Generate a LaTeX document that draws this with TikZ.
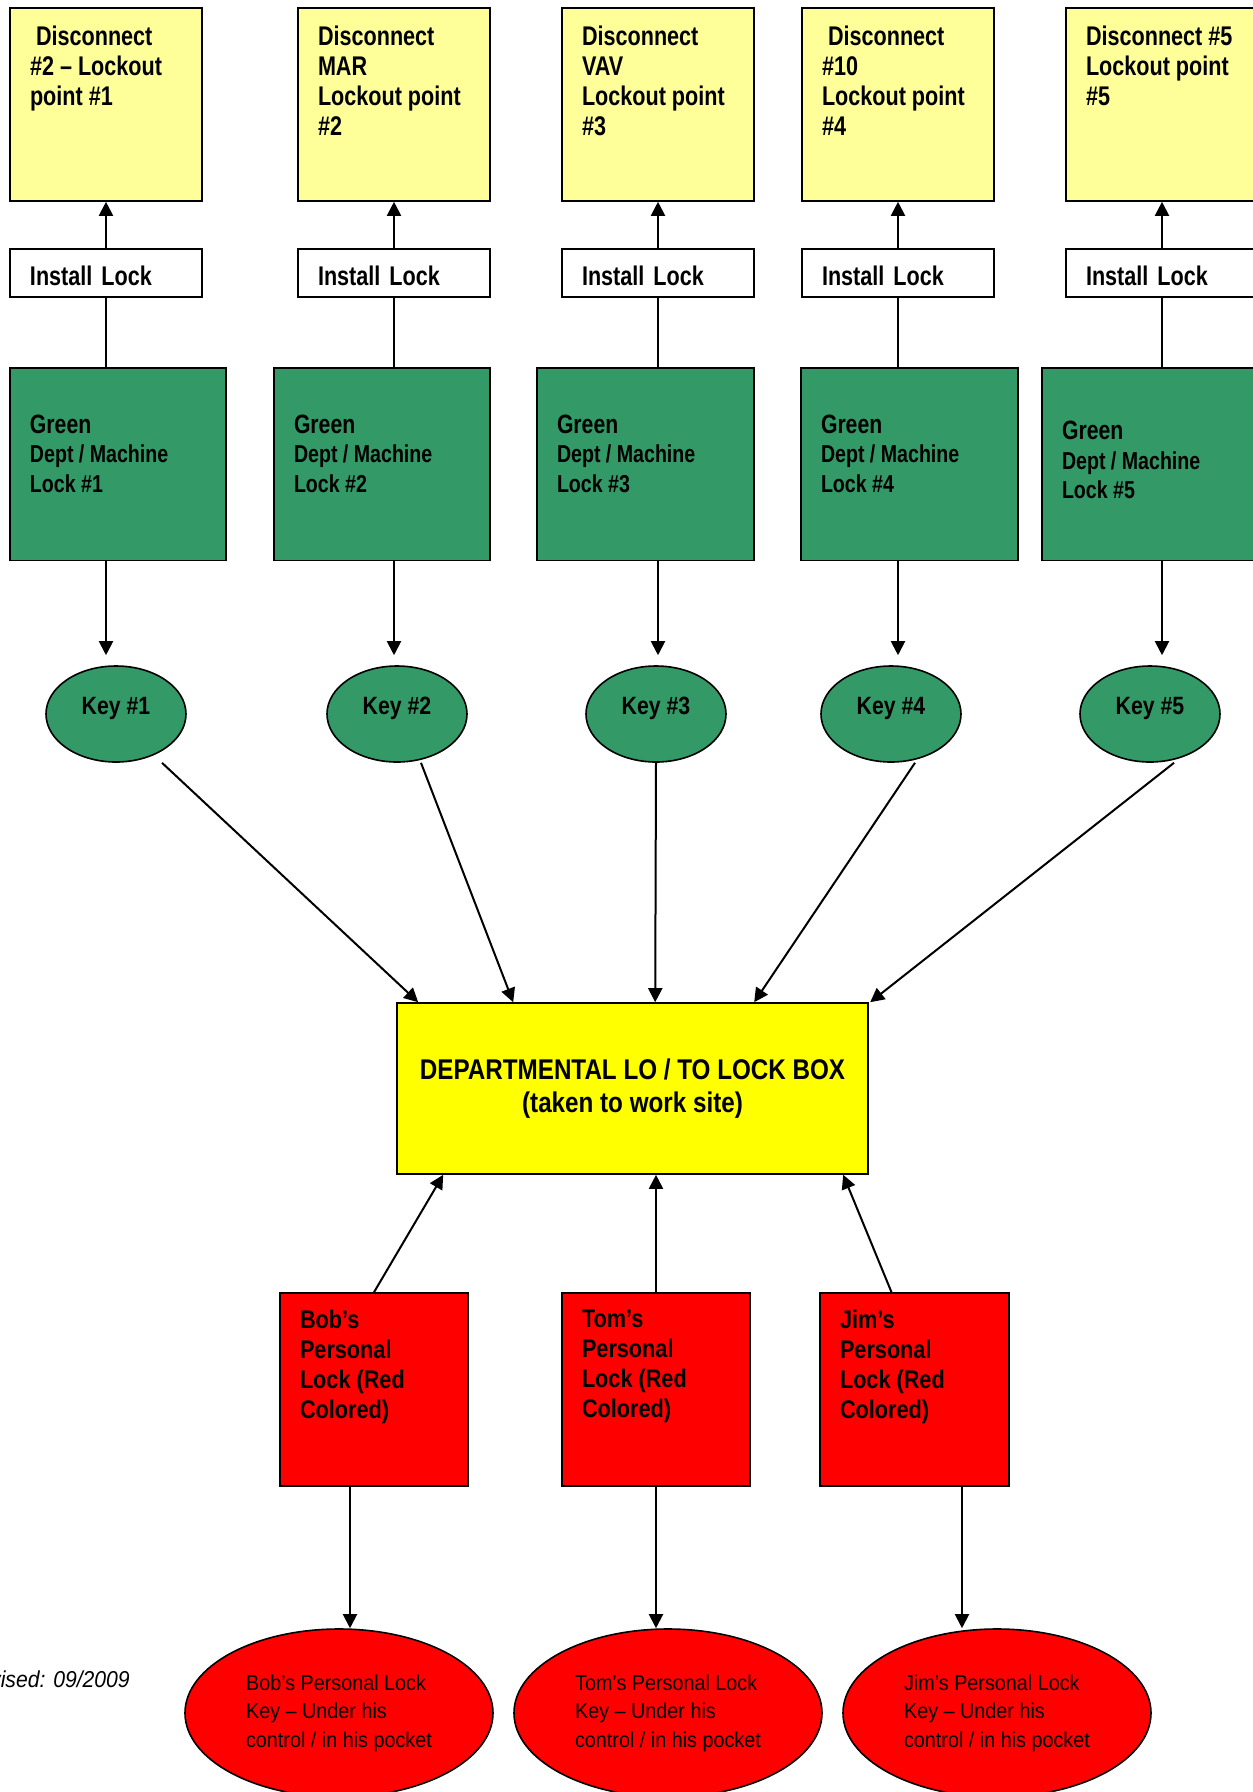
\documentclass[tikz,border=0pt]{standalone}
\usepackage{fontspec}
\setmainfont{Liberation Sans}[FakeStretch=0.85]
\newfontfamily\topfont{Liberation Sans}[FakeStretch=0.8, Ligatures=TeX]
\newfontfamily\notefont{Liberation Sans}[FakeStretch=0.92, Ligatures=TeX]
\usetikzlibrary{arrows.meta,calc,shapes.geometric}

\definecolor{paleyellow}{HTML}{FFFF99}
\definecolor{seagreen}{HTML}{339966}
\definecolor{boxred}{HTML}{FF0000}
\definecolor{boxyellow}{HTML}{FFFF00}

\newcommand{\topbox}[4]{\parbox[c][#1][t]{#2}{\raggedright\vspace*{#3}#4}}

\tikzset{
	disc/.style={draw, fill=paleyellow, line width=1.6pt, inner xsep=20pt, inner ysep=0pt, font=\topfont\fontsize{27}{30}\selectfont\bfseries},
	install/.style={draw, fill=white, line width=1.6pt, minimum width=192pt, minimum height=48pt, text width=152pt, text height=26pt, text depth=0pt, align=left, inner xsep=20pt, inner ysep=0pt, font=\topfont\fontsize{27}{30}\selectfont\bfseries},
	greenlock/.style={draw, fill=seagreen, line width=1.6pt, inner xsep=20pt, inner ysep=0pt, font=\topfont\fontsize{24.5}{29.5}\selectfont\bfseries},
	keynode/.style={ellipse, draw, fill=seagreen, line width=1.6pt, minimum width=140pt, minimum height=96pt, text height=20pt, text depth=20pt, inner sep=0pt, font=\fontsize{25}{27}\selectfont\bfseries},
	lockstyle/.style={draw, fill=boxyellow, line width=1.6pt, minimum width=471pt, minimum height=171pt, align=center, font=\fontsize{28.5}{33}\selectfont\bfseries},
	personal/.style={draw, fill=boxred, line width=1.6pt, inner xsep=20pt, inner ysep=0pt, font=\fontsize{25.5}{30}\selectfont\bfseries},
	pocket/.style={ellipse, draw, fill=boxred, line width=1.6pt, minimum width=308pt, minimum height=168pt, align=left, inner sep=0pt, font=\notefont\fontsize{21.5}{28.5}\selectfont},
	arr/.style={line width=2pt, -{Triangle[length=14pt,width=14pt]}},
	link/.style={line width=2pt}
}

\begin{document}
\begin{tikzpicture}[x=1pt, y=-1pt]
	\path[use as bounding box, fill=white] (0,0) rectangle (1253,1792);

	% lockout points
	\node[disc] (disc1) at (106,104.5) {\topbox{193pt}{152pt}{18pt}{\hspace*{6pt}Disconnect\\\#2 -- Lockout\\point \#1}};
	\node[disc] (disc2) at (394,104.5) {\topbox{193pt}{152pt}{18pt}{Disconnect\\MAR\\Lockout point\\\#2}};
	\node[disc] (disc3) at (658,104.5) {\topbox{193pt}{152pt}{18pt}{Disconnect\\VAV\\Lockout point\\\#3}};
	\node[disc] (disc4) at (898,104.5) {\topbox{193pt}{152pt}{18pt}{\hspace*{6pt}Disconnect\\\#10\\Lockout point\\\#4}};
	\node[disc] (disc5) at (1162,104.5) {\topbox{193pt}{152pt}{18pt}{Disconnect \#5\\Lockout point\\\#5}};

	\node[install] (inst1) at (106,272.7) {Install Lock};
	\node[install] (inst2) at (394,272.7) {Install Lock};
	\node[install] (inst3) at (658,272.7) {Install Lock};
	\node[install] (inst4) at (898,272.7) {Install Lock};
	\node[install] (inst5) at (1162,272.7) {Install Lock};

	\node[greenlock] (green1) at (118,464.3) {\topbox{192.5pt}{176pt}{46.5pt}{{\fontsize{26.5}{29.5}\selectfont Green}\\Dept / Machine\\Lock \#1}};
	\node[greenlock] (green2) at (382,464.3) {\topbox{192.5pt}{176pt}{46.5pt}{{\fontsize{26.5}{29.5}\selectfont Green}\\Dept / Machine\\Lock \#2}};
	\node[greenlock] (green3) at (645.5,464.3) {\topbox{192.5pt}{177pt}{46.5pt}{{\fontsize{26.5}{29.5}\selectfont Green}\\Dept / Machine\\Lock \#3}};
	\node[greenlock] (green4) at (909.5,464.3) {\topbox{192.5pt}{177pt}{46.5pt}{{\fontsize{26.5}{29.5}\selectfont Green}\\Dept / Machine\\Lock \#4}};
	\node[greenlock] (green5) at (1150.5,464.3) {\topbox{192.5pt}{177pt}{53pt}{{\fontsize{26.5}{29.5}\selectfont Green}\\Dept / Machine\\Lock \#5}};

	\node[keynode] (key1) at (116,714) {Key \#1};
	\node[keynode] (key2) at (397,714) {Key \#2};
	\node[keynode] (key3) at (656,714) {Key \#3};
	\node[keynode] (key4) at (891,714) {Key \#4};
	\node[keynode] (key5) at (1150,714) {Key \#5};

	\node[lockstyle] (lockbox) at (632.5,1088.5) {DEPARTMENTAL LO / TO LOCK BOX\\(taken to work site)};

	% personal locks
	\node[personal] (bob) at (374,1389.5) {\topbox{193pt}{148pt}{17pt}{Bob’s\\Personal\\Lock (Red\\Colored)}};
	\node[personal] (tom) at (656,1389.5) {\topbox{193pt}{148pt}{17pt}{Tom’s\\Personal\\Lock (Red\\Colored)}};
	\node[personal] (jim) at (914.5,1389.5) {\topbox{193pt}{149pt}{17pt}{Jim’s\\Personal\\Lock (Red\\Colored)}};

	\node[pocket] (bobkey) at (339,1713) {Bob’s Personal Lock\\Key -- Under his\\control / in his pocket};
	\node[pocket] (tomkey) at (668,1713) {Tom’s Personal Lock\\Key -- Under his\\control / in his pocket};
	\node[pocket] (jimkey) at (997,1713) {Jim’s Personal Lock\\Key -- Under his\\control / in his pocket};

	\node[anchor=base east, inner sep=0pt, font=\notefont\fontsize{23}{27}\selectfont\itshape] (revised) at (130,1687) {Revised: 09/2009};

	\foreach \n in {1,...,5} {
		\draw[arr] (inst\n.north) -- (disc\n.south);
		\draw[link] (inst\n.south) -- (inst\n.south |- green\n.north);
		\coordinate (drop\n) at (green\n.south -| inst\n.south);
		\draw[arr] (drop\n) -- ($(drop\n |- key\n.north)+(0,-10)$);
	}
	\foreach \n/\s/\e in {1/46pt/22pt, 2/24pt/117pt, 3/0pt/259pt, 4/24pt/358pt, 5/24pt/474pt}
		\draw[arr] ([xshift=\s]key\n.south) -- ([xshift=\e]lockbox.north west);

	\draw[arr] (bob.north) -- ([xshift=47pt]lockbox.south west);
	\draw[arr] (tom.north) -- (tom.north |- lockbox.south);
	\draw[arr] ([xshift=-23pt]jim.north) -- ([xshift=447pt]lockbox.south west);
	\foreach \p/\k/\s in {bob/bobkey/-24pt, tom/tomkey/0pt, jim/jimkey/47.5pt} {
		\coordinate (\p-down) at ([xshift=\s]\p.south);
		\draw[arr] (\p-down) -- (\p-down |- \k.north);
	}
\end{tikzpicture}
\end{document}
